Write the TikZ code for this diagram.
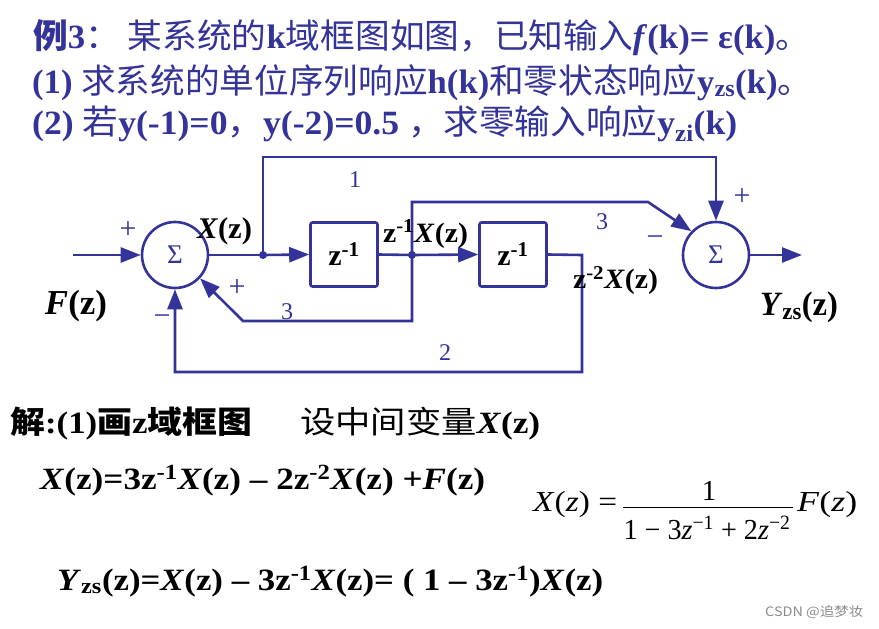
\documentclass[tikz,border=0pt]{standalone}
\usepackage{fontspec}
\setmainfont{Liberation Serif}
\newfontfamily\cjk{Noto Sans CJK SC}
\usepackage{graphicx}
\usetikzlibrary{arrows.meta,calc}
\definecolor{dblue}{RGB}{51,51,153}
\newcommand{\fitw}[2]{\resizebox{#1}{\height}{#2}}
\tikzset{
  wire/.style={draw=dblue, line width=2.6pt, line join=miter},
  arr/.style={wire, -{Triangle[length=20pt,width=15pt]}},
  sumnode/.style={circle, draw=dblue, line width=2.6pt, minimum size=66pt, inner sep=0pt,
    text=dblue, font=\fontsize{27}{30}\selectfont},
  blk/.style={rectangle, rounded corners=2pt, draw=dblue, line width=2.6pt,
    minimum width=67pt, minimum height=64pt, inner sep=0pt, font=\bfseries\fontsize{30}{32}\selectfont},
  num/.style={inner sep=0pt, text=dblue, font=\fontsize{24}{26}\selectfont},
  sgn/.style={inner sep=0pt, text=dblue, font=\fontsize{30}{32}\selectfont},
  lab/.style={inner sep=0pt},
  ttl/.style={inner sep=0pt, anchor=base west, text=dblue, font=\fontsize{34}{40}\selectfont},
  sol/.style={inner sep=0pt, anchor=base west, text=black, font=\fontsize{31}{36}\selectfont},
  frac/.style={inner sep=0pt, text=black, font=\fontsize{29}{32}\selectfont}
}
\begin{document}
\begin{tikzpicture}[x=1pt,y=-1pt]
\useasboundingbox (0,0) rectangle (879,629);
\fill[white] (0,0) rectangle (879,629);

% ---- title lines ----
\node[ttl] (t1) at (33,48) {\fitw{777pt}{{\cjk\bfseries 例}\textbf{3}{\cjk ：\ 某系统的}\textbf{k}{\cjk 域框图如图，已知输入}\textbf{\textit{f}(k)= ε(k)}{\cjk 。}}};
\node[ttl] (t2) at (32,93) {\fitw{780pt}{\textbf{(1) }{\cjk 求系统的单位序列响应}\textbf{h(k)}{\cjk 和零状态响应}\textbf{y\textsubscript{zs}(k)}{\cjk 。}}};
\node[ttl] (t3) at (32,134) {\fitw{705pt}{\textbf{(2) }{\cjk 若}\textbf{y(-1)=0}{\cjk ，}\textbf{y(-2)=0.5 }{\cjk ，求零输入响应}\textbf{y\textsubscript{zi}(k)}}};

% ---- block diagram ----
\node[sumnode] (s1) at (175,255) {Σ};
\node[sumnode] (s2) at (716,255) {Σ};
\node[blk] (b1) at (344,254.5) {z\textsuperscript{-1}};
\node[blk] (b2) at (513,254.5) {z\textsuperscript{-1}};

\coordinate (in) at (73,255);
\coordinate (j1) at (263,255);
\coordinate (j2) at (412,255);
\coordinate (c1) at (263,157);
\coordinate (c3a) at (412,202);
\coordinate (c3b) at (648,202);
\coordinate (c3c) at (412,321);
\coordinate (c3d) at (243,321);
\coordinate (c2a) at (582,255);
\coordinate (c2b) at (582,372);
\coordinate (c2c) at (175,372);
\coordinate (out) at (802,255);

\draw[arr] (in) -- (s1.west);
\draw[wire] (s1.east) -- (j1);
\draw[arr] (j1) -- (b1.west);
\draw[wire] (b1.east) -- (j2);
\draw[arr] (j2) -- (b2.west);
\draw[arr] (b2.east) -- (c2a) -- (c2b) -- (c2c) -- (s1.south);
\draw[arr] (j1) -- (c1) -| (s2.north);
\draw[arr] (j2) -- (c3a) -- (c3b) -- (s2.136);
\draw[arr] (j2) -- (c3c) -- (c3d) -- (s1.-43);
\draw[arr] (s2.east) -- (out);
\fill[dblue] (j1) circle (4);
\fill[dblue] (j2) circle (4);

% signs and gains
\node[sgn] (p1) at (128,230) {+};
\node[sgn] (m1) at (162,320) {−};
\node[sgn] (p2) at (237,288) {+};
\node[num] (g3a) at (287,312) {3};
\node[num] (g1) at (355,180) {1};
\node[num] (g2) at (445,353) {2};
\node[num] (g3b) at (602,222) {3};
\node[sgn] (m2) at (655,241) {−};
\node[sgn] (p3) at (742,197) {+};

% signal labels
\node[lab, font=\fontsize{30}{32}\selectfont] (lx) at (224.5,231) {\fitw{55pt}{\textbf{\textit{X}(z)}}};
\node[lab, font=\fontsize{35}{38}\selectfont] (lf) at (76,306.5) {\fitw{62pt}{\textbf{\textit{F}(z)}}};
\node[lab, font=\fontsize{28}{30}\selectfont] (lx1) at (425.5,234) {\fitw{85pt}{\textbf{z\textsuperscript{-1}\textit{X}(z)}}};
\node[lab, font=\fontsize{28}{30}\selectfont] (lx2) at (615.5,280.5) {\fitw{85pt}{\textbf{z\textsuperscript{-2}\textit{X}(z)}}};
\node[lab, font=\fontsize{34}{36}\selectfont] (ly) at (799,307.5) {\fitw{78pt}{\textbf{\textit{Y}\textsubscript{zs}(z)}}};

% ---- solution ----
\node[sol] (s1t) at (10,433) {\fitw{242pt}{{\cjk\bfseries 解}\textbf{:(1)}{\cjk\bfseries 画}\textbf{z}{\cjk\bfseries 域框图}}};
\node[sol] (s2t) at (300,433) {\fitw{240pt}{{\cjk 设中间变量}\textbf{\textit{X}(z)}}};
\node[sol] (e1) at (40,489) {\fitw{445pt}{\textbf{\textit{X}(z)=3z\textsuperscript{-1}\textit{X}(z) – 2z\textsuperscript{-2}\textit{X}(z) +\textit{F}(z)}}};
\node[sol] (e2) at (57,590) {\fitw{546pt}{\textbf{\textit{Y}\textsubscript{zs}(z)=\textit{X}(z) – 3z\textsuperscript{-1}\textit{X}(z)= ( 1 – 3z\textsuperscript{-1})\textit{X}(z)}}};

% fraction
\node[frac, anchor=west] (fx) at (533,505) {\fitw{84pt}{\textit{X}(\textit{z}) =}};
\node[frac, anchor=base] (fnum) at (709,500) {1};
\node[frac, anchor=base] (fden) at (707,539) {\fitw{167pt}{1 − 3\textit{z}\textsuperscript{−1} + 2\textit{z}\textsuperscript{−2}}};
\draw[line width=1pt] (623,507) -- (793,507);
\node[frac, anchor=west] (ff) at (797,505) {\fitw{60pt}{\textit{F}(\textit{z})}};

% watermark
\node[inner sep=0pt, anchor=west, text=black!45, font=\cjk\fontsize{13}{15}\selectfont] (wm) at (765,612) {\fitw{98pt}{CSDN @追梦妆}};
\end{tikzpicture}
\end{document}
